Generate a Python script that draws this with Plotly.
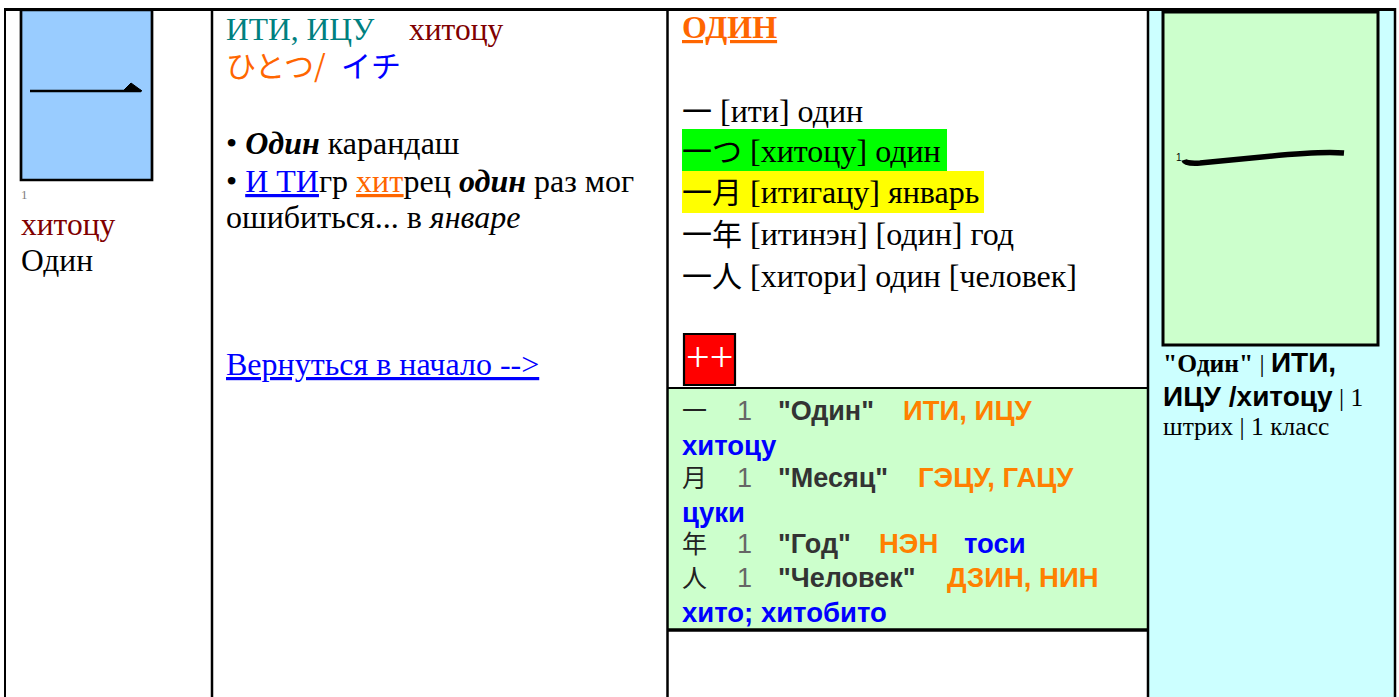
import plotly.graph_objects as go

# ---------------- data (text content of the kanji card) ----------------
stroke_count = "1"
kun_reading = "хитоцу"
meaning = "Один"

on_readings = "ИТИ, ИЦУ"
kana_kun = "ひとつ/"
kana_on = "イチ"

mnemonic_lines = [
    "• <b><i>Один</i></b> карандаш",
    "• <span style=\"color:#0000FF;text-decoration:underline\">И ТИ</span>гр "
    "<span style=\"color:#FF6600;text-decoration:underline\">хит</span>рец "
    "<b><i>один</i></b> раз мог",
    "ошибиться... в <i>январе</i>",
]
back_link = "Вернуться в начало --&gt;"

heading = "ОДИН"
compound_words = ["一", "一つ", "一月", "一年", "一人"]
compound_readings = ["[ити] один", "[хитоцу] один", "[итигацу] январь",
                     "[итинэн] [один] год", "[хитори] один [человек]"]

component_kanji = ["一", "月", "年", "人"]
component_strokes = ["1", "1", "1", "1"]
component_meanings = ['"Один"', '"Месяц"', '"Год"', '"Человек"']
component_on = ["ИТИ, ИЦУ", "ГЭЦУ, ГАЦУ", "НЭН", "ДЗИН, НИН"]
component_kun = ["хитоцу", "цуки", "тоси", "хито; хитобито"]
kun_on_same_line = [False, False, True, False]

SANS_SPAN = "<span style=\"font-family:'Liberation Sans';font-size:28px\">"
summary_lines = [
    "<b>\"Один\"</b> | " + SANS_SPAN + "<b>ИТИ,</b></span>",
    SANS_SPAN + "<b>ИЦУ /хитоцу</b></span> | 1",
    "штрих | 1 класс",
]

# ---------------- layout helpers ----------------
W, H = 1399, 697
SERIF = "Liberation Serif"
SANS = "Liberation Sans"
CJK = "Noto Sans CJK JP"

xs, ys, tx, sz, col, fam = [], [], [], [], [], []


def add(x, base, text, size, color="#000000", family=SERIF):
    # scatter text with 'middle right' puts the baseline at y + 0.25*size
    xs.append(x)
    ys.append(base - 0.25 * size)
    tx.append(text)
    sz.append(size)
    col.append(color)
    fam.append(family)


def cjk(s, size=30):
    return ("<span style=\"font-family:'Noto Sans CJK JP';font-size:%dpx\">" % size) + s + "</span>"


# column 1
add(21, 199, stroke_count, 13, "#808080")
add(21, 235, kun_reading, 31.5, "#800000")
add(21, 271, meaning, 31.5, "#000000")

# column 2
add(226, 40, on_readings, 31.5, "#008080")
add(409, 40, kun_reading, 31.5, "#800000")
add(226, 77, kana_kun, 30, "#FF6600", CJK)
add(341, 77, kana_on, 30, "#0000FF", CJK)
for base, line in zip([154, 192, 228], mnemonic_lines):
    add(226, base, line, 32, "#000000")
add(226, 375, "<span style=\"text-decoration:underline\">" + back_link + "</span>", 32, "#0000FF")

# column 3 top
add(682, 38, "<b><span style=\"text-decoration:underline\">" + heading + "</span></b>", 32, "#FF6600")
for base, w, r in zip([122, 162, 203, 245, 287], compound_words, compound_readings):
    add(682, base, cjk(w) + " " + r, 32, "#000000")
add(686, 371, "++", 42, "#FFFFFF")

# column 3 component block
row_bases = [420, 455, 487, 522, 553, 587, 622]
on_x = [903, 918, 879, 947]
kun_inline_x = [None, None, 964, None]
ri = 0
for i in range(len(component_kanji)):
    b = row_bases[ri]
    add(682, b, component_kanji[i], 25, "#222222", CJK)
    add(737, b, component_strokes[i], 27, "#666666", SANS)
    add(778, b, "<b>" + component_meanings[i] + "</b>", 27, "#333333", SANS)
    add(on_x[i], b, "<b>" + component_on[i] + "</b>", 27.5, "#FF8000", SANS)
    if kun_on_same_line[i]:
        add(kun_inline_x[i], b, "<b>" + component_kun[i] + "</b>", 27.5, "#0000FF", SANS)
        ri += 1
    else:
        add(682, row_bases[ri + 1], "<b>" + component_kun[i] + "</b>", 27.5, "#0000FF", SANS)
        ri += 2

# column 4
add(1176, 161, stroke_count, 10, "#000000", SANS)
for base, line in zip([372, 406, 435], summary_lines):
    add(1163, base, line, 25.5, "#000000")

fig = go.Figure()
fig.add_trace(go.Scatter(
    x=xs, y=ys, text=tx, mode="text", textposition="middle right",
    textfont=dict(size=sz, color=col, family=fam),
    hoverinfo="skip", showlegend=False,
))

shapes = []


def rect(x0, y0, x1, y1, fill, lw=0, lc="#000000"):
    shapes.append(dict(type="rect", x0=x0, y0=y0, x1=x1, y1=y1, fillcolor=fill,
                       line=dict(width=lw, color=lc), layer="below"))


def line(x0, y0, x1, y1, w, c="#000000"):
    shapes.append(dict(type="line", x0=x0, y0=y0, x1=x1, y1=y1,
                       line=dict(width=w, color=c), layer="below"))


# backgrounds
rect(1149, 11, 1394, H, "#CCFFFF")
rect(668, 389, 1147, 630, "#CCFFCC")
rect(682, 129, 947, 171, "#00FF00")
rect(682, 171, 984, 213, "#FFFF00")
# blue stroke box
rect(21, 10, 152, 180, "#99CCFF", 2.7)
line(30, 91, 141, 91, 2.5)
shapes.append(dict(type="path", path="M 123 91 L 131 83 L 142 91 Z",
                   fillcolor="#000000", line=dict(width=1, color="#000000"), layer="below"))
# red ++ box
rect(684, 334, 735, 385, "#FF0000", 2.2)
# stroke order box
rect(1163, 12, 1378, 345, "#CCFFCC", 3)
shapes.append(dict(type="path",
                   path="M 1184 160 Q 1185 164 1200 163 L 1262 157 Q 1320 151 1344 153",
                   line=dict(width=5.5, color="#000000"), layer="below"))
# table borders
line(4, 9.5, 1396, 9.5, 3)
line(5, 8, 5, H, 2)
line(212, 8, 212, H, 2.5)
line(667.5, 8, 667.5, H, 2.5)
line(1148, 8, 1148, H, 2.5)
line(1395, 8, 1395, H, 2.5)
line(667, 388, 1148, 388, 2)
line(667, 630, 1148, 630, 3.5)

fig.update_layout(
    width=W, height=H, margin=dict(l=0, r=0, t=0, b=0),
    paper_bgcolor="#FFFFFF", plot_bgcolor="#FFFFFF",
    xaxis=dict(range=[0, W], visible=False, fixedrange=True),
    yaxis=dict(range=[H, 0], visible=False, fixedrange=True),
    shapes=shapes, showlegend=False,
)

fig.write_html(
    "out.html",
    config={"displayModeBar": False},
    post_script="document.body.style.margin='0';document.body.style.overflow='hidden';",
)
